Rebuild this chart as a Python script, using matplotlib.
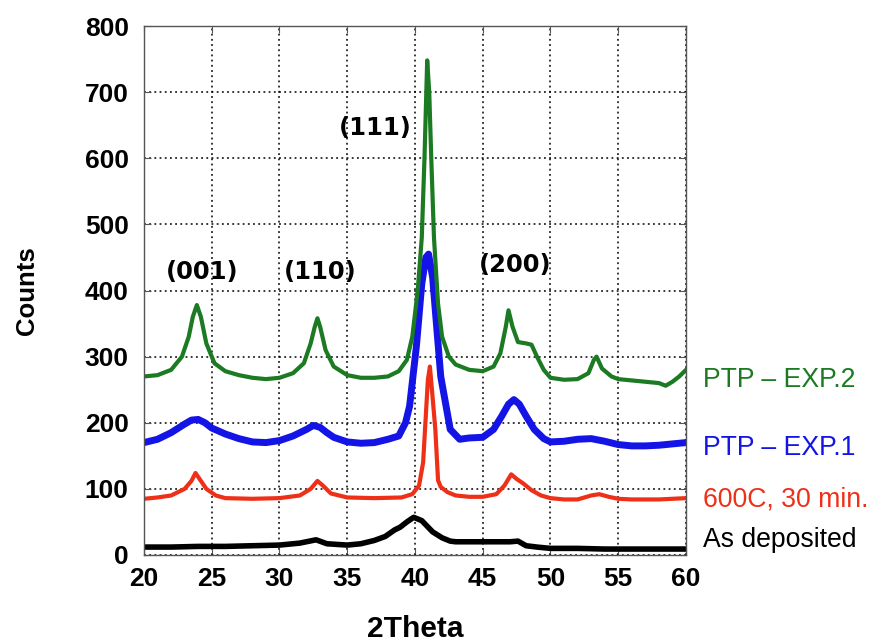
import matplotlib
matplotlib.use("Agg")
import matplotlib.pyplot as plt

# ---------------- data ----------------
exp2_x = [20, 21, 22, 22.8, 23.3, 23.6, 23.9, 24.2, 24.6, 25.2, 26, 27, 28, 29, 30, 31, 31.8, 32.3,
          32.6, 32.8, 33.0, 33.4, 34, 35, 36, 37, 38, 38.8, 39.4, 39.8, 40.2, 40.5, 40.7, 40.9,
          41.05, 41.2, 41.4, 41.7, 42.0, 42.5, 43, 44, 45, 45.8, 46.3, 46.7, 46.9, 47.2, 47.6,
          48.2, 48.6, 49.0, 49.5, 50, 51, 52, 52.8, 53.2, 53.4, 53.8, 54.5, 55, 56, 57, 58, 58.5,
          59, 59.5, 60]
exp2_y = [270, 272, 280, 300, 330, 360, 378, 360, 320, 290, 278, 272, 268, 266, 268, 275, 290, 320,
          345, 358, 345, 310, 285, 272, 268, 268, 270, 278, 295, 330, 400, 480, 600, 748,
          700, 600, 480, 380, 330, 300, 288, 280, 278, 285, 305, 345, 370, 345, 322,
          320, 318, 300, 280, 268, 265, 266, 275, 295, 300, 282, 270, 266, 264, 262, 260, 256,
          262, 270, 280]

exp1_x = [20, 21, 22, 23, 23.5, 24, 24.5, 25, 26, 27, 28, 29, 30, 31, 32, 32.5, 33, 33.5, 34, 35,
          36, 37, 38, 38.8, 39.3, 39.6, 40.1, 40.5, 40.8, 41.0, 41.3, 41.6, 41.9, 42.6, 43.3,
          44, 45, 45.8, 46.4, 46.9, 47.3, 47.7, 48.2, 48.8, 49.5, 50, 51, 52, 53, 54, 55, 56,
          57, 58, 59, 60]
exp1_y = [170, 175, 185, 198, 204, 205, 200, 192, 183, 176, 171, 170, 173, 180, 190, 196, 193, 185,
          178, 171, 169, 170, 175, 180, 200, 225, 315, 410, 450, 455, 420, 345, 270, 190, 175,
          177, 178, 190, 210, 228, 235, 228, 210, 190, 176, 171, 172, 175, 176, 172, 167, 165,
          165, 166, 168, 170]

a600_x = [20, 21, 22, 23, 23.5, 23.8, 24.1, 24.6, 25.3, 26, 28, 30, 31.5, 32.3, 32.8, 33.2, 33.8,
          35, 37, 39, 39.8, 40.3, 40.6, 40.95, 41.1, 41.25, 41.5, 41.7, 41.9, 42.4, 43, 44, 45,
          46, 46.6, 47.1, 47.5, 48, 48.6, 49.3, 50, 51, 52, 53, 53.6, 54.3, 55, 56, 58, 60]
a600_y = [85, 87, 90, 100, 112, 124, 115, 100, 90, 86, 85, 86, 90, 100, 112, 105, 93,
          87, 86, 87, 92, 105, 140, 265, 285, 250, 190, 113, 103, 95, 90, 88, 88,
          92, 105, 122, 115, 108, 98, 90, 86, 84, 84, 90, 92, 88, 85, 84, 84, 86]

asdep_x = [20, 22, 24, 26, 28, 30, 31.5, 32.7, 33.5, 35, 36, 37, 37.8, 38.5, 38.9, 39.4, 39.9,
           40.5, 41.3, 42, 42.6, 43, 44, 45, 46, 47, 47.6, 48.2, 49, 50, 52, 54, 56, 58, 60]
asdep_y = [12, 12, 13, 13, 14, 15, 18, 23, 17, 15, 17, 22, 28, 38, 42, 50, 57,
           52, 35, 26, 21, 20, 20, 20, 20, 20, 21, 14, 12, 10, 10, 9, 9, 9, 9]

series_labels = ["PTP \u2013 EXP.2", "PTP \u2013 EXP.1", "600C, 30 min.", "As deposited"]

peak_labels = ["(001)", "(110)", "(111)", "(200)"]
peak_pos_x = [24.3, 33.0, 37.1, 47.4]
peak_pos_y = [428, 428, 646, 439]

xticks = [20, 25, 30, 35, 40, 45, 50, 55, 60]
yticks = [0, 100, 200, 300, 400, 500, 600, 700, 800]

# ---------------- style ----------------
GREEN = "#1b7a22"
BLUE = "#1414e6"
RED = "#ee3018"
BLACK = "#000000"
colors = [GREEN, BLUE, RED, BLACK]

fig = plt.figure(figsize=(8.7, 6.44), dpi=100)
W, H = 870, 644
L, R, T, B = 144, 686, 26, 555
ax = fig.add_axes([L / W, 1 - B / H, (R - L) / W, (B - T) / H])

ax.plot(asdep_x, asdep_y, color=BLACK, lw=4.0, solid_joinstyle="round")
ax.plot(a600_x, a600_y, color=RED, lw=3.0, solid_joinstyle="round")
ax.plot(exp1_x, exp1_y, color=BLUE, lw=5.0, solid_joinstyle="round")
ax.plot(exp2_x, exp2_y, color=GREEN, lw=3.0, solid_joinstyle="round")

ax.set_xlim(20, 60)
ax.set_ylim(0, 800)
ax.grid(True, color="black", linestyle=(0, (1.2, 2.2)), linewidth=1.1)
ax.tick_params(direction="in", top=True, right=True, length=5, width=0.8, color="#555555")
ax.tick_params(axis="x", pad=9)
ax.tick_params(axis="y", pad=11)
for s in ax.spines.values():
    s.set_color("#555555")
    s.set_linewidth(1.0)

ax.set_xticks(xticks)
ax.set_xticklabels([str(v) for v in xticks], fontfamily="Liberation Sans",
                   fontweight="bold", fontsize=19)
ax.set_yticks(yticks)
ax.set_yticklabels([str(v) for v in yticks], fontfamily="Liberation Sans",
                   fontweight="bold", fontsize=19)

ax.set_xlabel("2Theta", fontfamily="Liberation Sans", fontweight="bold",
              fontsize=21.5, va="center", ha="center")
ax.xaxis.set_label_coords(0.5, (B - 629) / (B - T))
ax.set_ylabel("Counts", fontfamily="Liberation Sans", fontweight="bold",
              fontsize=18.5, va="center", ha="center")
ax.yaxis.set_label_coords((27 - L) / (R - L), 0.5)

for t, px, py in zip(peak_labels, peak_pos_x, peak_pos_y):
    ax.text(px, py, t, ha="center", va="center", fontsize=17.5, fontweight="bold",
            fontfamily="DejaVu Sans", color="black")

label_base = [387, 455, 507, 547]  # baseline pixel rows of the side labels
for t, py, c in zip(series_labels, label_base, colors):
    fig.text(703 / W, 1 - py / H, t, ha="left", va="baseline", fontsize=19.2,
             fontfamily="Liberation Sans", color=c)

fig.savefig("out.png", dpi=100, facecolor="white")
